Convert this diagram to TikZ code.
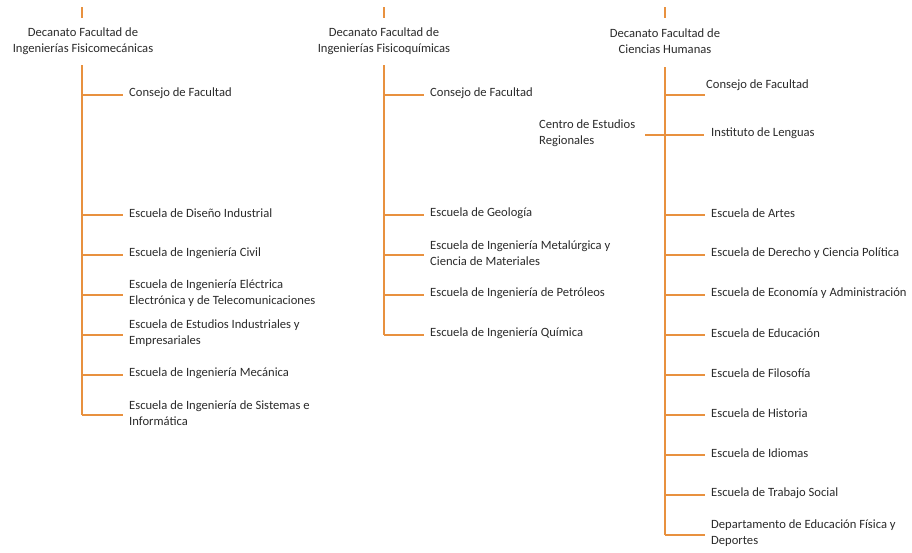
\documentclass[tikz,border=0pt]{standalone}
\usepackage{fontspec}
\setmainfont{Carlito}
\definecolor{brnch}{HTML}{E8913F}
\definecolor{txt}{HTML}{2B2B2B}
\begin{document}
\begin{tikzpicture}[x=1pt,y=-1pt,
  lnk/.style={draw=brnch,line width=1.3pt},
  hlnk/.style={draw=brnch,line width=1.6pt},
  ttl/.style={align=center,text=txt,font=\fontsize{12.6}{15.5}\selectfont,inner sep=0pt},
  itm/.style={anchor=west,align=left,text=txt,font=\fontsize{12.6}{15.5}\selectfont,inner sep=0pt}]
\useasboundingbox[fill=white] (0,0) rectangle (912,552);
% ---------- column 1
\node[ttl] (t1) at (83,41) {Decanato Facultad de\\Ingenierías Fisicomecánicas};
\coordinate (s1a) at (82,7); \coordinate (s1b) at (82,18);
\draw[lnk] (s1a) -- (s1b);
\coordinate (v1a) at (82,65); \coordinate (v1b) at (82,415);
\draw[lnk] (v1a) -- (v1b);
\foreach \n/\y/\t in {a/95/{Consejo de Facultad},
  b/215/{Escuela de Diseño Industrial},
  c/255/{Escuela de Ingeniería Civil},
  d/295/{Escuela de Ingeniería Eléctrica\\Electrónica y de Telecomunicaciones},
  e/335/{Escuela de Estudios Industriales y\\Empresariales},
  f/375/{Escuela de Ingeniería Mecánica},
  g/415/{Escuela de Ingeniería de Sistemas e\\Informática}}{
  \node[itm] (c1\n) at (129,\y-2) {\t};
  \coordinate (c1\n s) at (82,\y); \coordinate (c1\n e) at (123,\y);
  \draw[hlnk] (c1\n s) -- (c1\n e);
}
% ---------- column 2
\node[ttl] (t2) at (384,41) {Decanato Facultad de\\Ingenierías Fisicoquímicas};
\coordinate (s2a) at (384,7); \coordinate (s2b) at (384,18);
\draw[lnk] (s2a) -- (s2b);
\coordinate (v2a) at (384,65); \coordinate (v2b) at (384,335);
\draw[lnk] (v2a) -- (v2b);
\foreach \n/\y/\t in {a/95/{Consejo de Facultad},
  b/215/{Escuela de Geología},
  c/255/{Escuela de Ingeniería Metalúrgica y\\Ciencia de Materiales},
  d/295/{Escuela de Ingeniería de Petróleos},
  e/335/{Escuela de Ingeniería Química}}{
  \node[itm] (c2\n) at (430,\y-2) {\t};
  \coordinate (c2\n s) at (384,\y); \coordinate (c2\n e) at (424,\y);
  \draw[hlnk] (c2\n s) -- (c2\n e);
}
% ---------- column 3
\node[ttl] (t3) at (665,41) {Decanato Facultad de\\Ciencias Humanas};
\coordinate (s3a) at (665,7); \coordinate (s3b) at (665,18);
\draw[lnk] (s3a) -- (s3b);
\coordinate (v3a) at (665,67); \coordinate (v3b) at (665,535);
\draw[lnk] (v3a) -- (v3b);
\node[itm] (c3a) at (706,85) {Consejo de Facultad};
\coordinate (c3as) at (665,95); \coordinate (c3ae) at (705,95);
\draw[hlnk] (c3as) -- (c3ae);
\node[itm] (c3b) at (711,133) {Instituto de Lenguas};
\coordinate (c3bs) at (665,135); \coordinate (c3be) at (704,135);
\draw[hlnk] (c3bs) -- (c3be);
\node[itm] (cer) at (539,133) {Centro de Estudios\\Regionales};
\coordinate (cers) at (645,135);
\draw[hlnk] (cers) -- (c3bs);
\foreach \n/\y/\t in {c/215/{Escuela de Artes},
  d/255/{Escuela de Derecho y Ciencia Política},
  e/295/{Escuela de Economía y Administración},
  f/335/{Escuela de Educación},
  g/375/{Escuela de Filosofía},
  h/415/{Escuela de Historia},
  i/455/{Escuela de Idiomas},
  j/495/{Escuela de Trabajo Social},
  k/535/{Departamento de Educación Física y\\Deportes}}{
  \node[itm] (c3\n) at (711,\y-2) {\t};
  \coordinate (c3\n s) at (665,\y); \coordinate (c3\n e) at (705,\y);
  \draw[hlnk] (c3\n s) -- (c3\n e);
}
\end{tikzpicture}
\end{document}
